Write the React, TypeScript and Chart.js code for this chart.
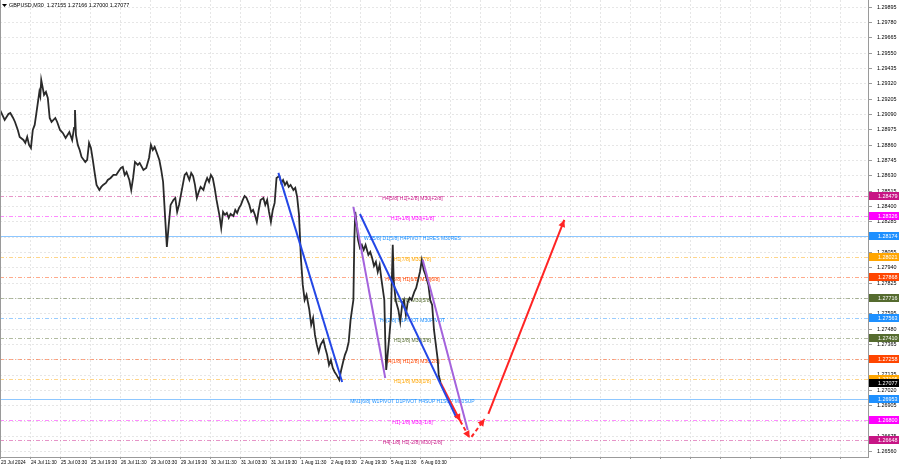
import React, { useEffect, useRef } from 'react';
import { Chart, registerables } from 'chart.js';
Chart.register(...registerables);

const symbolTitle = 'GBPUSD,M30  1.27155 1.27166 1.27000 1.27077';

// M30 bar index (0 = first visible bar) and close price
const priceBars = [0,3,5,9,11,14,16,19,21,25,27,29,31,33,35,37,39,42,43,44,45,47,49,51,53,55,59,61,64,67,70,74,77,79,80,81,83,85,87,91,93,95,97,99,101,103,106,108,110,113,115,118,121,124,126,129,131,133,135,138,140,142,144,147,149,153,156,159,161,163,165,167,170,172,174,176,178,180,182,185,187,189,191,193,195,197,199,202,204,206,208,210,212,214,217,219,221,223,225,227,229,231,234,236,238,240,242,244,246,249,251,253,255,257,259,261,263,266,268,270,272,274,276,278,281,283,285,287,289,291,293,295,298,300,302,304,306,308,310,313,315,317,319,321,323,325,327,330,332,334,336,338,340,342,345,347,349,351,353,355,357,359,362,364,366,368,370,372,374,377,378,379,380,382,384,386,388,390,393,395,397,399,401,403,405,407,410,411,412,413,415,417,418,419,420,422,425,427,429,431,433,435,437,439,442,444,446,448,450,452,454,457,459,461,463,465,467,468,470];
const priceCloses = [1.29123,1.29078,1.29048,1.29093,1.29100,1.29063,1.29033,1.28973,1.28921,1.28898,1.28876,1.28921,1.28861,1.28838,1.28973,1.29011,1.29108,1.29258,1.29228,1.29348,1.29311,1.29236,1.29258,1.29213,1.29063,1.29033,1.29063,1.29033,1.28973,1.28951,1.28913,1.28958,1.28898,1.28988,1.29123,1.28936,1.28861,1.28823,1.28771,1.28733,1.28748,1.28876,1.28838,1.28748,1.28651,1.28561,1.28523,1.28546,1.28561,1.28576,1.28598,1.28613,1.28636,1.28636,1.28658,1.28688,1.28696,1.28636,1.28658,1.28598,1.28523,1.28613,1.28733,1.28711,1.28726,1.28673,1.28688,1.28763,1.28861,1.28823,1.28846,1.28808,1.28748,1.28673,1.28583,1.28336,1.28096,1.28261,1.28411,1.28448,1.28463,1.28358,1.28411,1.28486,1.28561,1.28636,1.28651,1.28598,1.28651,1.28628,1.28561,1.28463,1.28508,1.28546,1.28523,1.28576,1.28613,1.28583,1.28636,1.28613,1.28538,1.28448,1.28336,1.28238,1.28358,1.28336,1.28351,1.28313,1.28343,1.28328,1.28373,1.28351,1.28388,1.28411,1.28448,1.28478,1.28463,1.28411,1.28358,1.28373,1.28336,1.28283,1.28373,1.28448,1.28463,1.28411,1.28448,1.28358,1.28283,1.28373,1.28426,1.28613,1.28628,1.28576,1.28598,1.28561,1.28583,1.28546,1.28561,1.28523,1.28538,1.28471,1.28336,1.28013,1.27811,1.27698,1.27736,1.27623,1.27511,1.27563,1.27436,1.27361,1.27308,1.27361,1.27398,1.27338,1.27286,1.27211,1.27248,1.27188,1.27158,1.27136,1.27098,1.27173,1.27233,1.27286,1.27323,1.27383,1.27548,1.27698,1.28148,1.28358,1.28298,1.28148,1.28088,1.28111,1.28073,1.28111,1.28036,1.28058,1.28013,1.27953,1.27983,1.27908,1.27961,1.27848,1.27698,1.27398,1.27173,1.27248,1.27398,1.27563,1.27848,1.28111,1.27848,1.27698,1.27623,1.27533,1.27661,1.27698,1.27586,1.27683,1.27713,1.27698,1.27758,1.27788,1.27848,1.27908,1.27998,1.27923,1.27886,1.27811,1.27698,1.27661,1.27473,1.27361,1.27248,1.27136,1.27077];

const xTickBars = [1,33,65,97,129,161,193,225,257,289,321,353,385,417,449,481,513,545,577,609,641,673,705,737,769,801,833,865,897];
const xTickLabels = ['23 Jul 2024','24 Jul 11:30','25 Jul 03:30','25 Jul 19:30','26 Jul 11:30','29 Jul 03:30','29 Jul 19:30','30 Jul 11:30','31 Jul 03:30','31 Jul 19:30','1 Aug 11:30','2 Aug 03:30','2 Aug 19:30','5 Aug 11:30','6 Aug 03:30'];
const yTickValues = [1.26560,1.26675,1.26790,1.26905,1.27020,1.27135,1.27250,1.27365,1.27480,1.27595,1.27710,1.27825,1.27940,1.28055,1.28170,1.28285,1.28400,1.28515,1.28630,1.28745,1.28860,1.28975,1.29090,1.29205,1.29320,1.29435,1.29550,1.29665,1.29780,1.29895];

const levelPrices = [1.28479,1.28326,1.28174,1.28021,1.27868,1.27716,1.27563,1.27410,1.27258,1.27105,1.26953,1.26800,1.26648];
const levelNames = ['H4[5/8] H1[+2/8] M30[+2/8]','H1[+1/8] M30[+1/8]','W1[5/8] D1[5/8] H4PIVOT H1RES M30RES','H1[7/8] M30[7/8]','H4[3/8] H1[6/8] M30[6/8]','H1[5/8] M30[5/8]','H4[2/8] H1PIVOT M30PIVOT','H1[3/8] M30[3/8]','H4[1/8] H1[2/8] M30[2/8]','H1[1/8] M30[1/8]','MN1[6/8] W1PIVOT D1PIVOT H4SUP H1SUP M30SUP','H1[-1/8] M30[-1/8]','H4[-1/8] H1[-2/8] M30[-2/8]'];
const levelColors = ['#C71585','#FF00FF','#1E90FF','#FFA500','#FF4500','#556B2F','#1E90FF','#556B2F','#FF4500','#FFA500','#1E90FF','#FF00FF','#C71585'];
const levelSolid = [false,false,true,false,false,false,false,false,false,false,true,false,false];
const levelTextBar = 440;
const currentPrice = 1.27077;

const blueABars = [297,365], blueAPrices = [1.28651,1.27083];
const blueBBars = [384,487], blueBPrices = [1.28343,1.26813];
const purpleABars = [377,411], purpleAPrices = [1.28396,1.27113];
const purpleBBars = [451,499], purpleBPrices = [1.27998,1.26723];
const redABars = [470,491], redAPrices = [1.27077,1.26790];
const redBBars = [491,501], redBPrices = [1.26790,1.26663];
const redCBars = [503,517], redCPrices = [1.26671,1.26805];
const redDBars = [521,602], redDPrices = [1.26843,1.28298];

const FAMILY = '"Liberation Sans", Arial, sans-serif';
const FONT = '5.4px ' + FAMILY;
const LEVEL_FONT = '5px ' + FAMILY;

function pts(bars: number[], vals: number[]) {
  return bars.map((b, i) => ({ x: b, y: vals[i] }));
}
function withAlpha(hex: string, a: number) {
  const n = parseInt(hex.slice(1), 16);
  return `rgba(${(n >> 16) & 255},${(n >> 8) & 255},${n & 255},${a})`;
}
function noPad(s: any) {
  s.paddingTop = 0;
  s.paddingBottom = 0;
  s.paddingLeft = 0;
  s.paddingRight = 0;
}

const levelsPlugin = {
  id: 'levels',
  beforeDatasetsDraw(chart: any) {
    const { ctx, chartArea: a, scales } = chart;
    const xs = scales.x, ys = scales.y;
    ctx.save();
    ctx.beginPath();
    ctx.rect(a.left, a.top, a.right - a.left, a.bottom - a.top);
    ctx.clip();
    levelPrices.forEach((p, i) => {
      const py = Math.round(ys.getPixelForValue(p)) + 0.5;
      ctx.strokeStyle = withAlpha(levelColors[i], levelSolid[i] ? 0.5 : 0.45);
      ctx.lineWidth = 1;
      ctx.setLineDash(levelSolid[i] ? [] : [4, 2, 1, 2]);
      ctx.beginPath();
      ctx.moveTo(a.left, py);
      ctx.lineTo(a.right, py);
      ctx.stroke();
      ctx.setLineDash([]);
      ctx.fillStyle = levelColors[i];
      ctx.font = LEVEL_FONT;
      ctx.textAlign = 'center';
      ctx.textBaseline = 'middle';
      ctx.fillText(levelNames[i], xs.getPixelForValue(levelTextBar), py + 2);
    });
    ctx.restore();
  },
  afterDatasetsDraw(chart: any) {
    const { ctx } = chart;
    chart.data.datasets.forEach((ds: any, i: number) => {
      if (!ds.arrow) return;
      const meta = chart.getDatasetMeta(i);
      const n = meta.data.length;
      const p1 = meta.data[n - 2], p2 = meta.data[n - 1];
      const ang = Math.atan2(p2.y - p1.y, p2.x - p1.x);
      const L = 7, W = 3.5;
      ctx.save();
      ctx.fillStyle = ds.borderColor;
      ctx.beginPath();
      ctx.moveTo(p2.x, p2.y);
      ctx.lineTo(p2.x - L * Math.cos(ang) + W * Math.sin(ang), p2.y - L * Math.sin(ang) - W * Math.cos(ang));
      ctx.lineTo(p2.x - L * Math.cos(ang) - W * Math.sin(ang), p2.y - L * Math.sin(ang) + W * Math.cos(ang));
      ctx.closePath();
      ctx.fill();
      ctx.restore();
    });
  },
  afterDraw(chart: any) {
    const { ctx, chartArea: a, scales, width } = chart;
    const ys = scales.y;
    ctx.save();
    ctx.font = FONT;
    ctx.textBaseline = 'middle';
    ctx.textAlign = 'left';
    const tag = (p: number, color: string) => {
      const py = Math.round(ys.getPixelForValue(p));
      ctx.fillStyle = color;
      ctx.fillRect(a.right + 1, py - 4, width - a.right - 2, 8);
      ctx.fillStyle = '#ffffff';
      ctx.fillText(p.toFixed(5), a.right + 10, py + 0.5);
    };
    levelPrices.forEach((p, i) => tag(p, levelColors[i]));
    tag(currentPrice, '#000000');
    ctx.strokeStyle = '#9a9a9a';
    ctx.lineWidth = 1;
    ctx.beginPath();
    ctx.moveTo(a.left + 0.5, a.top);
    ctx.lineTo(a.left + 0.5, a.bottom + 0.5);
    ctx.lineTo(a.right + 0.5, a.bottom + 0.5);
    ctx.lineTo(a.right + 0.5, a.top);
    ctx.stroke();
    ctx.fillStyle = '#000';
    ctx.beginPath();
    ctx.moveTo(2, 4); ctx.lineTo(7, 4); ctx.lineTo(4.5, 7); ctx.closePath();
    ctx.fill();
    ctx.fillText(symbolTitle, 9, 6);
    ctx.restore();
  },
};

export default function App() {
  const ref = useRef<HTMLCanvasElement | null>(null);
  useEffect(() => {
    document.body.style.margin = '0';
    const trend = (bars: number[], vals: number[], color: string, extra: any = {}) => ({
      data: pts(bars, vals),
      borderColor: color,
      borderWidth: 2,
      pointRadius: 0,
      tension: 0,
      order: 1,
      ...extra,
    });
    const chart = new Chart(ref.current as HTMLCanvasElement, {
      type: 'line',
      data: {
        datasets: [
          trend(blueABars, blueAPrices, '#2447e6'),
          trend(blueBBars, blueBPrices, '#2447e6'),
          trend(purpleABars, purpleAPrices, '#a463dc'),
          trend(purpleBBars, purpleBPrices, '#a463dc'),
          trend(redABars, redAPrices, '#ff2424', { arrow: true }),
          trend(redBBars, redBPrices, '#ff2424', { arrow: true, borderDash: [4, 3] }),
          trend(redCBars, redCPrices, '#ff2424', { arrow: true, borderDash: [4, 3] }),
          trend(redDBars, redDPrices, '#ff2424', { arrow: true }),
          {
            data: pts(priceBars, priceCloses),
            borderColor: '#2a2a2a',
            borderWidth: 1.8,
            pointRadius: 0,
            tension: 0,
            order: 5,
          },
        ] as any,
      },
      options: {
        animation: false,
        responsive: false,
        maintainAspectRatio: false,
        layout: { padding: 0 },
        plugins: { legend: { display: false }, tooltip: { enabled: false } },
        scales: {
          x: {
            type: 'linear',
            position: 'bottom',
            min: 0,
            max: 926,
            afterBuildTicks: (s: any) => { s.ticks = xTickBars.map((v) => ({ value: v })); },
            afterFit: (s: any) => { s.height = 11; noPad(s); },
            ticks: {
              autoSkip: false,
              maxRotation: 0,
              minRotation: 0,
              align: 'start',
              padding: 1,
              color: '#000',
              font: { size: 4.8, family: FAMILY },
              callback: (_v: any, i: number) => xTickLabels[i] ?? '',
            },
            grid: { color: '#e6e6e6', tickLength: 2, tickColor: '#9a9a9a' },
            border: { color: '#9a9a9a', dash: [2, 2] },
          },
          y: {
            type: 'linear',
            position: 'right',
            min: 1.26520,
            max: 1.29948,
            afterBuildTicks: (s: any) => { s.ticks = yTickValues.map((v) => ({ value: v })); },
            afterFit: (s: any) => { s.width = 32; noPad(s); },
            ticks: {
              padding: 5,
              color: '#000',
              font: { size: 5.4, family: FAMILY },
              callback: (v: any) => Number(v).toFixed(5),
            },
            grid: { color: '#e6e6e6', tickLength: 4, tickColor: '#9a9a9a' },
            border: { color: '#9a9a9a', dash: [2, 2] },
          },
        },
      } as any,
      plugins: [levelsPlugin],
    });
    return () => chart.destroy();
  }, []);
  return (
    <div style={{ width: 900, height: 468, background: '#fff' }}>
      <canvas ref={ref} width={900} height={468} style={{ display: 'block' }} />
    </div>
  );
}
